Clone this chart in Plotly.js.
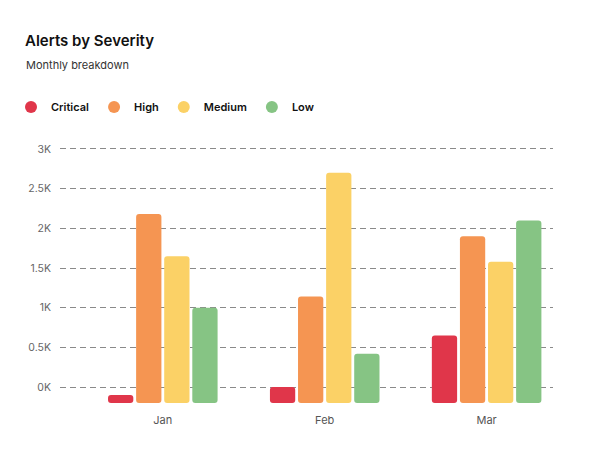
<!DOCTYPE html>
<html>
<head>
<meta charset="utf-8">
<script src="https://cdn.plot.ly/plotly-3.0.1.min.js"></script>
<style>html,body{margin:0;padding:0;background:#fff;}#chart{width:612px;height:450px;}</style>
</head>
<body>
<div id="chart"></div>
<script>
const months = ['Jan', 'Feb', 'Mar'];
const critical = [-100, 0, 650];
const high = [2180, 1140, 1900];
const medium = [1650, 2700, 1580];
const low = [1000, 420, 2100];
const seriesNames = ['Critical', 'High', 'Medium', 'Low'];
const seriesColors = ['#E0364A', '#F59552', '#FBD166', '#86C484'];
const yTickVals = [0, 500, 1000, 1500, 2000, 2500, 3000];
const yTickText = ['0K', '0.5K', '1K', '1.5K', '2K', '2.5K', '3K'];
const AXIS_MIN = -200;
const AXIS_MAX = 3050;

const seriesValues = [critical, high, medium, low];
const FONT = 'Inter, "Open Sans", sans-serif';

const traces = [];
seriesValues.forEach((vals, i) => {
  traces.push({
    type: 'bar',
    name: seriesNames[i],
    x: months,
    y: vals.map(v => v - AXIS_MIN),
    base: AXIS_MIN,
    marker: {color: seriesColors[i], cornerradius: 3, line: {width: 0}},
    showlegend: false,
    hoverinfo: 'skip'
  });
});
seriesValues.forEach((vals, i) => {
  traces.push({
    type: 'scatter',
    mode: 'markers',
    name: seriesNames[i],
    x: [months[0]],
    y: [null],
    marker: {color: seriesColors[i], size: 12, symbol: 'circle'},
    showlegend: true,
    hoverinfo: 'skip'
  });
});

const layout = {
  width: 612,
  height: 450,
  paper_bgcolor: '#ffffff',
  plot_bgcolor: '#ffffff',
  font: {family: FONT, color: '#555'},
  margin: {l: 60, r: 59, t: 145, b: 47, pad: 0},
  title: {
    text: 'Alerts by Severity',
    font: {family: FONT, size: 15, color: '#111', weight: 600},
    x: 25 / 612, xref: 'container', xanchor: 'left',
    y: 1 - 41 / 450, yref: 'container', yanchor: 'middle'
  },
  annotations: [{
    text: 'Monthly breakdown',
    xref: 'paper', yref: 'paper',
    x: (24 - 60) / (612 - 60 - 59), xanchor: 'left',
    y: 1 + (145 - 65) / (450 - 145 - 47), yanchor: 'middle',
    showarrow: false,
    font: {family: FONT, size: 11, color: '#333'}
  }],
  showlegend: true,
  legend: {
    orientation: 'h',
    x: 11 / 612, xref: 'container', xanchor: 'left',
    y: 1 - 107 / 450, yref: 'container', yanchor: 'middle',
    font: {family: FONT, size: 11, color: '#111', weight: 600},
    itemwidth: 30,
    traceorder: 'normal',
    bgcolor: 'rgba(0,0,0,0)'
  },
  barmode: 'group',
  bargap: 0.306,
  bargroupgap: 0.1,
  xaxis: {
    type: 'category',
    range: [-0.635, 2.41],
    showgrid: false,
    zeroline: false,
    showline: false,
    ticks: '',
    tickfont: {family: FONT, size: 11, color: '#555'},
    ticklabelstandoff: 9,
    fixedrange: true
  },
  yaxis: {
    range: [AXIS_MIN, AXIS_MAX],
    tickmode: 'array',
    tickvals: yTickVals,
    ticktext: yTickText,
    showgrid: true,
    gridcolor: '#8a8a8a',
    gridwidth: 1,
    griddash: '6px,4px',
    zeroline: false,
    showline: false,
    ticks: '',
    tickfont: {family: FONT, size: 10.5, color: '#666'},
    ticklabelstandoff: 8,
    fixedrange: true
  }
};

Plotly.newPlot('chart', traces, layout, {displayModeBar: false, staticPlot: true});
</script>
</body>
</html>
